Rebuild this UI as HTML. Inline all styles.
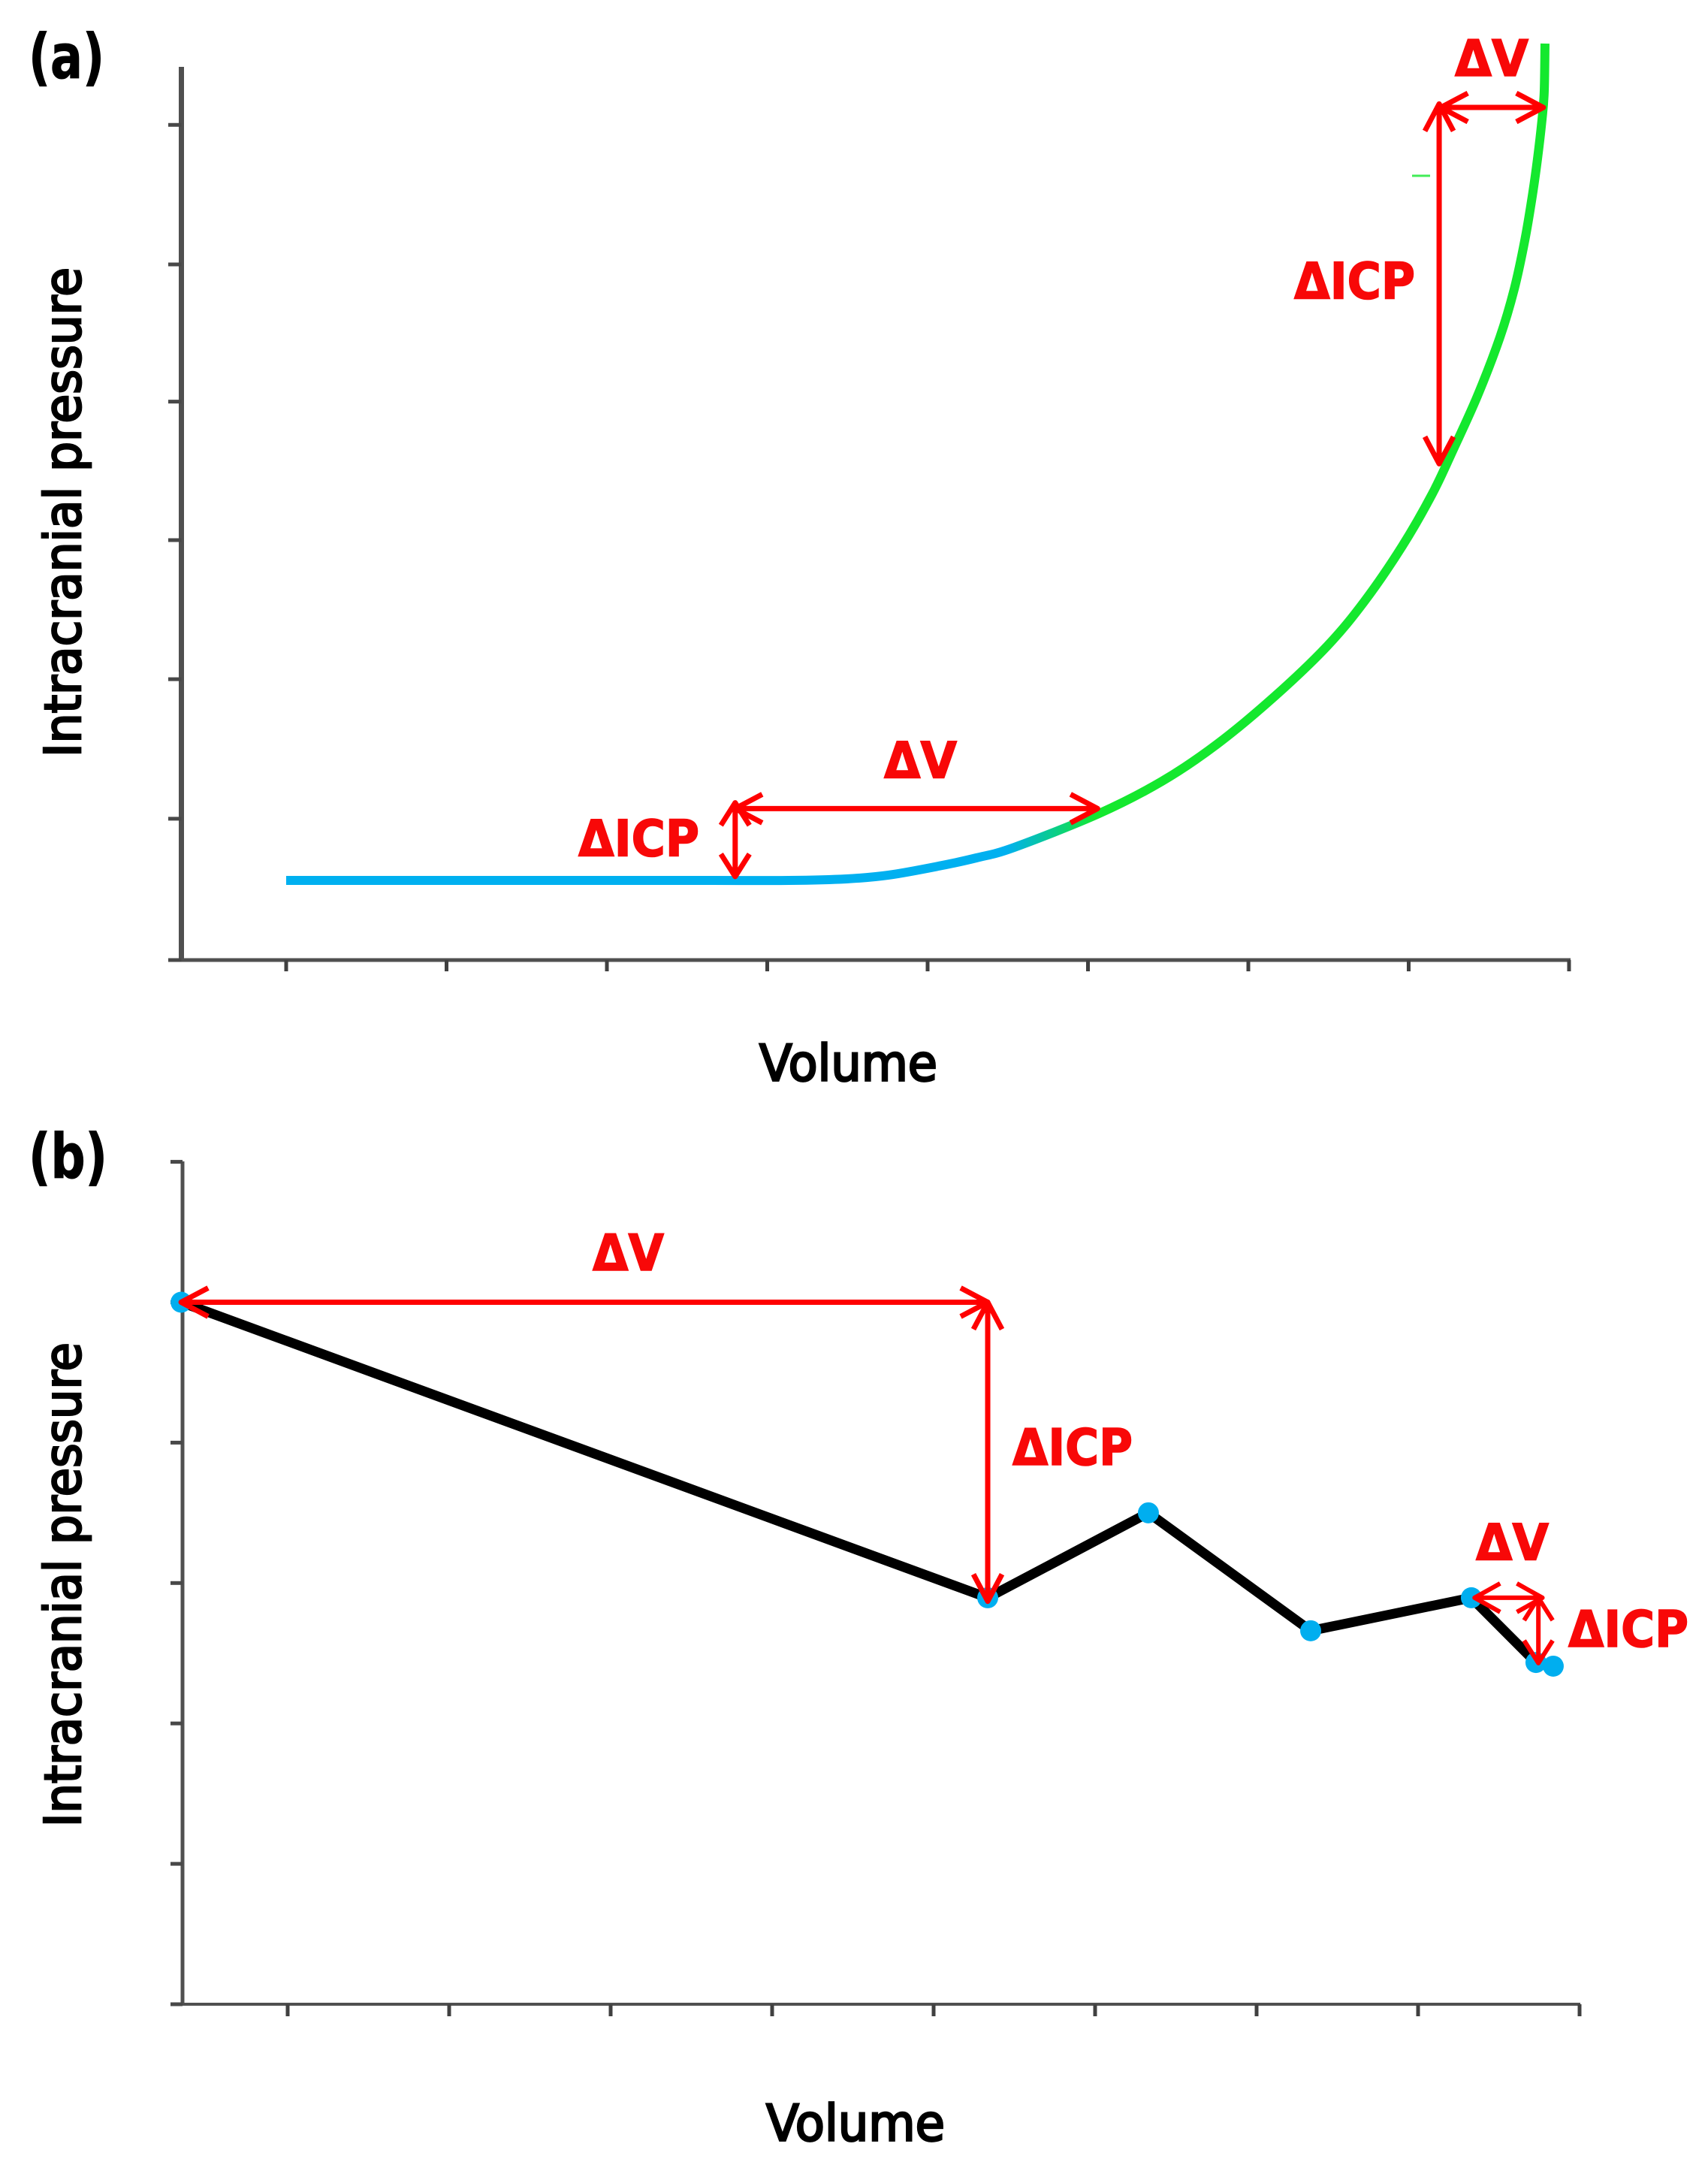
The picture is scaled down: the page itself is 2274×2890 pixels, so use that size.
<!DOCTYPE html>
<html lang="en">
<head>
<meta charset="utf-8">
<title>Intracranial pressure vs volume</title>
<style>
html,body{margin:0;padding:0;background:#fff;}
svg{display:block;}
.lbl{font-family:"DejaVu Sans","Liberation Sans",sans-serif;fill:#000;}
.axis-t{font-size:67px;stroke:#000;stroke-width:2.8px;}
.panel{font-size:82px;font-weight:bold;stroke:#000;stroke-width:1px;}
.delta{font-family:"DejaVu Sans","Liberation Sans",sans-serif;font-weight:bold;font-size:67px;fill:#f80808;stroke:#f80808;stroke-width:1.6px;}
</style>
</head>
<body>
<svg id="chart" xmlns="http://www.w3.org/2000/svg" width="2274" height="2890" viewBox="0 0 2274 2890">
  <rect width="2274" height="2890" fill="#ffffff"/>
  <defs>
    <linearGradient id="curveGrad" gradientUnits="userSpaceOnUse" x1="1340" y1="0" x2="1460" y2="0">
      <stop offset="0" stop-color="#00b0f0"/>
      <stop offset="1" stop-color="#14e82e"/>
    </linearGradient>
  </defs>
  <g id="panelA"></g>
  <g id="panelB"></g>

  <text class="lbl panel" x="38" y="104" textLength="101" lengthAdjust="spacingAndGlyphs">(a)</text>
  <text class="lbl panel" x="38" y="1568" textLength="105" lengthAdjust="spacingAndGlyphs">(b)</text>

  <text class="lbl axis-t" x="107" y="1008" transform="rotate(-90 107 1008)" textLength="652" lengthAdjust="spacingAndGlyphs">Intracranial pressure</text>
  <text class="lbl axis-t" x="107" y="2432" transform="rotate(-90 107 2432)" textLength="645" lengthAdjust="spacingAndGlyphs">Intracranial pressure</text>
  <text class="lbl axis-t" x="1011" y="1438.5" textLength="237" lengthAdjust="spacingAndGlyphs">Volume</text>
  <text class="lbl axis-t" x="1020" y="2849.5" textLength="238" lengthAdjust="spacingAndGlyphs">Volume</text>

  <text class="delta" x="770" y="1139.5" textLength="161" lengthAdjust="spacingAndGlyphs">ΔICP</text>
  <text class="delta" x="1177" y="1035.5" textLength="97" lengthAdjust="spacingAndGlyphs">ΔV</text>
  <text class="delta" x="1723" y="397.5" textLength="161" lengthAdjust="spacingAndGlyphs">ΔICP</text>
  <text class="delta" x="1937" y="101" textLength="98" lengthAdjust="spacingAndGlyphs">ΔV</text>
  <text class="delta" x="789" y="1691" textLength="95" lengthAdjust="spacingAndGlyphs">ΔV</text>
  <text class="delta" x="1348" y="1950" textLength="160" lengthAdjust="spacingAndGlyphs">ΔICP</text>
  <text class="delta" x="1965" y="2076.5" textLength="97" lengthAdjust="spacingAndGlyphs">ΔV</text>
  <text class="delta" x="2088" y="2192" textLength="160" lengthAdjust="spacingAndGlyphs">ΔICP</text>
</svg>
<script>
// Tick positions in axis units
var xTicksA = [0, 1, 2, 3, 4, 5, 6, 7, 8];
var yTicksA = [0, 1.015, 2.018, 3.017, 4.012, 4.997, 6];
var xTicksB = [0, 1, 2, 3, 4, 5, 6, 7, 8];
var yTicksB = [0, 1, 2, 3, 4, 5, 6];

// Panel (a): pressure-volume curve
var curveVolume = [0, 1.026, 1.963, 2.665, 3.133, 3.494, 3.756, 4.070, 4.304, 4.539, 5.068, 5.461, 5.803, 6.164, 6.492, 6.726, 6.960, 7.148, 7.279, 7.429, 7.569, 7.658, 7.724, 7.770, 7.803, 7.831, 7.845, 7.850];
var curvePressure = [0.572, 0.572, 0.572, 0.572, 0.572, 0.583, 0.610, 0.675, 0.734, 0.809, 1.052, 1.284, 1.549, 1.894, 2.256, 2.580, 2.974, 3.351, 3.670, 4.053, 4.474, 4.819, 5.170, 5.483, 5.753, 6.033, 6.233, 6.584];

// Panel (b): measured points
var pointVolume = [-0.66, 4.335, 5.33, 6.335, 7.33, 7.73, 7.837];
var pointPressure = [5.0, 2.895, 3.5, 2.66, 2.895, 2.434, 2.408];

// Delta annotations, one entry per arrow
var arrowFromVolumeA = [2.80, 2.80, 7.20, 7.19];
var arrowToVolumeA = [5.06, 2.80, 7.84, 7.19];
var arrowFromPressureA = [1.088, 1.13, 6.125, 6.15];
var arrowToPressureA = [1.088, 0.60, 6.125, 3.565];
var arrowFromVolumeB = [-0.66, 4.335, 7.35, 7.745];
var arrowToVolumeB = [4.335, 4.335, 7.77, 7.745];
var arrowFromPressureB = [5.0, 5.0, 2.895, 2.895];
var arrowToPressureB = [5.0, 2.87, 2.895, 2.43];

var NS = 'http://www.w3.org/2000/svg';
var panelA = document.getElementById('panelA');
var panelB = document.getElementById('panelB');

function xA(v) { return 381 + 213.5 * v; }
function yA(p) { return 1278 - 185.3 * p; }
function xB(v) { return 383 + 215 * v; }
function yB(p) { return 2668 - 186.9 * p; }

function addShape(parent, tag, attrs, name) {
  var el = document.createElementNS(NS, tag);
  for (var k in attrs) { el.setAttribute(k, attrs[k]); }
  
  
  parent.appendChild(el);
  return el;
}

function drawAxes(parent, prefix, xs, ys, xTicks, yTicks, x0, yTop, xEnd, tickLeft, tickDown, yW, xW) {
  var color = '#505050';
  var base = ys(0);
  addShape(parent, 'line', {x1: x0, y1: yTop, x2: x0, y2: base + xW / 2, stroke: color, 'stroke-width': yW}, prefix + '-y-axis');
  addShape(parent, 'line', {x1: tickLeft, y1: base, x2: xEnd, y2: base, stroke: color, 'stroke-width': xW}, prefix + '-x-axis');
  yTicks.forEach(function (t) {
    addShape(parent, 'line', {x1: tickLeft, y1: ys(t), x2: x0, y2: ys(t), stroke: '#484848', 'stroke-width': 5}, prefix + '-y-tick');
  });
  xTicks.forEach(function (t) {
    addShape(parent, 'line', {x1: xs(t), y1: base, x2: xs(t), y2: base + tickDown, stroke: '#404040', 'stroke-width': 5}, prefix + '-x-tick');
  });
}

function smoothPath(pts) {
  var d = 'M' + pts[0][0] + ' ' + pts[0][1];
  for (var i = 0; i < pts.length - 1; i++) {
    var p0 = pts[Math.max(i - 1, 0)], p1 = pts[i], p2 = pts[i + 1], p3 = pts[Math.min(i + 2, pts.length - 1)];
    var c1x = p1[0] + (p2[0] - p0[0]) / 6, c1y = p1[1] + (p2[1] - p0[1]) / 6;
    var c2x = p2[0] - (p3[0] - p1[0]) / 6, c2y = p2[1] - (p3[1] - p1[1]) / 6;
    d += ' C' + c1x + ' ' + c1y + ' ' + c2x + ' ' + c2y + ' ' + p2[0] + ' ' + p2[1];
  }
  return d;
}

function drawArrow(parent, x1, y1, x2, y2, len, half, width, name) {
  var a = Math.atan2(y2 - y1, x2 - x1);
  var c = Math.cos(a), s = Math.sin(a);
  function head(x, y, dir) {
    return 'M' + (x - dir * len * c - half * s) + ' ' + (y - dir * len * s + half * c) +
      ' L' + x + ' ' + y +
      ' L' + (x - dir * len * c + half * s) + ' ' + (y - dir * len * s - half * c);
  }
  var d = 'M' + x1 + ' ' + y1 + ' L' + x2 + ' ' + y2 + ' ' + head(x2, y2, 1) + ' ' + head(x1, y1, -1);
  addShape(parent, 'path', {d: d, fill: 'none', stroke: '#ff0000', 'stroke-width': width, 'stroke-linejoin': 'round'}, name);
}

// Panel (a)
drawAxes(panelA, 'panel-a', xA, yA, xTicksA, yTicksA, 241.5, 89, 2091, 224, 15, 7, 5);
var curvePts = curveVolume.map(function (v, i) { return [xA(v), yA(curvePressure[i])]; });
addShape(panelA, 'path', {d: smoothPath(curvePts), fill: 'none', stroke: 'url(#curveGrad)', 'stroke-width': 12}, 'pressure-volume-curve');
addShape(panelA, 'line', {x1: 1880, y1: 234, x2: 1904, y2: 234, stroke: '#14e82e', 'stroke-width': 3, opacity: 0.8}, 'stray-green-mark');
var headLenA = [36, 30, 36, 36];
var headHalfA = [19, 19, 19, 19];
var arrowWidthA = [7, 7, 7, 7];
arrowFromVolumeA.forEach(function (v, i) {
  drawArrow(panelA, xA(v), yA(arrowFromPressureA[i]), xA(arrowToVolumeA[i]), yA(arrowToPressureA[i]), headLenA[i], headHalfA[i], arrowWidthA[i], 'panel-a-delta-arrow');
});

// Panel (b)
drawAxes(panelB, 'panel-b', xB, yB, xTicksB, yTicksB, 243, 1546, 2104, 227, 16, 5, 4);
var linePts = pointVolume.map(function (v, i) { return xB(v) + ',' + yB(pointPressure[i]); }).join(' ');
addShape(panelB, 'polyline', {points: linePts, fill: 'none', stroke: '#000000', 'stroke-width': 13, 'stroke-linejoin': 'round'}, 'pressure-line');
pointVolume.forEach(function (v, i) {
  addShape(panelB, 'circle', {cx: xB(v), cy: yB(pointPressure[i]), r: 14, fill: '#00aeef'}, 'pressure-point');
});
var headLenB = [36, 36, 34, 30];
var headHalfB = [19, 19, 19, 19];
var arrowWidthB = [7, 7, 6, 6];
arrowFromVolumeB.forEach(function (v, i) {
  drawArrow(panelB, xB(v), yB(arrowFromPressureB[i]), xB(arrowToVolumeB[i]), yB(arrowToPressureB[i]), headLenB[i], headHalfB[i], arrowWidthB[i], 'panel-b-delta-arrow');
});
</script>
</body>
</html>
